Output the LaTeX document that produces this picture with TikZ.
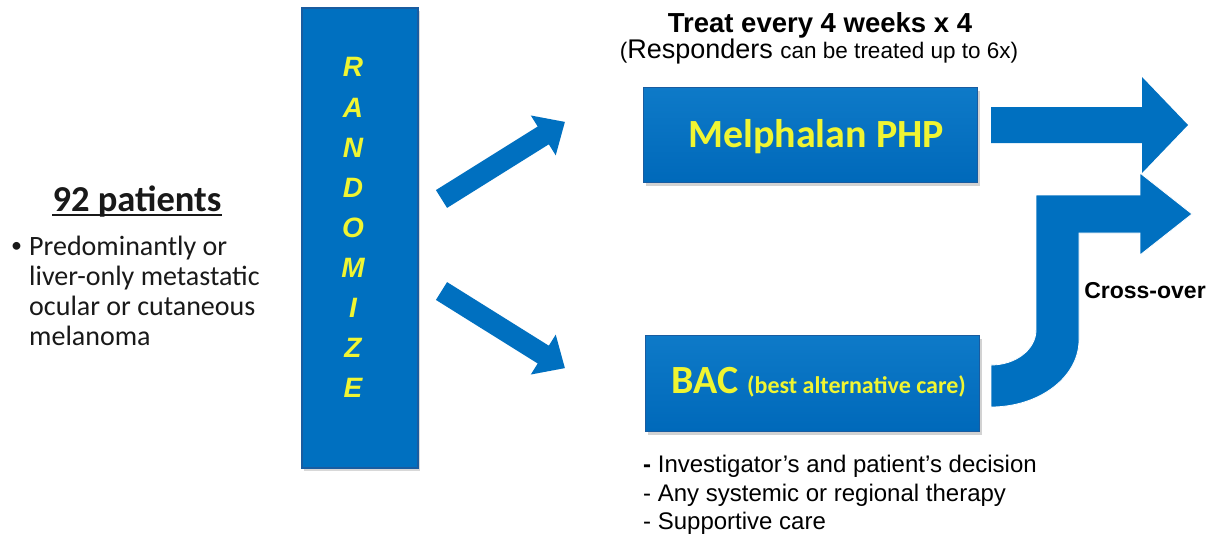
\documentclass[tikz,border=0pt]{standalone}
\usepackage{fontspec}
\setmainfont{Liberation Sans}
\newfontfamily\cali{Carlito}
\usetikzlibrary{shadows,calc}
\definecolor{sblue}{RGB}{0,112,192}
\definecolor{sbluetop}{RGB}{14,122,200}
\definecolor{sbluebot}{RGB}{0,105,186}
\definecolor{sblueedge}{RGB}{25,92,160}
\definecolor{syellow}{RGB}{240,245,50}
\begin{document}
\begin{tikzpicture}[x=1pt,y=-1pt,
  box/.style={draw=sblueedge, line width=1pt, top color=sbluetop, bottom color=sbluebot,
    inner sep=0pt, drop shadow={shadow xshift=3pt, shadow yshift=-4pt, opacity=0.35}},
  randbox/.style={draw=sblueedge, line width=1.8pt, fill=sblue, inner sep=0pt,
    drop shadow={shadow xshift=2pt, shadow yshift=-3pt, opacity=0.3}},
  lbl/.style={inner sep=0pt, anchor=base},
  lblw/.style={inner sep=0pt, anchor=base west},
  randl/.style={lbl, text=syellow, font=\bfseries\itshape\fontsize{28}{30}\selectfont},
  leftt/.style={lblw, text=black!90, font=\cali\fontsize{28}{30}\selectfont},
  bact/.style={lblw, font=\fontsize{24}{28}\selectfont},
  blk/.style={fill=sblue}]
\useasboundingbox[fill=white] (0,0) rectangle (1212,535);

% left text
\node[lbl, text=black!90, font=\cali\bfseries\fontsize{36.5}{42}\selectfont] (np) at (137,211) {92 patients};
\draw[line width=2pt, black!90] ($(np.base west)+(0,4)$) -- ($(np.base east)+(0,4)$);
\node[lblw, text=black!90, font=\cali\fontsize{22}{26}\selectfont] (bul) at (11,252) {•};
\node[leftt] (l1) at (29,255) {Predominantly or};
\node[leftt] (l2) at (29,285) {liver-only metastatic};
\node[leftt] (l3) at (29,315) {ocular or cutaneous};
\node[leftt] (l4) at (29,345) {melanoma};

% randomize box
\node[randbox, minimum width=116pt, minimum height=460pt] (rand) at (360,238) {};
\foreach \L [count=\i from 0] in {R,A,N,D,O,M,I,Z,E}
  \node[randl] (r\i) at (353,77+40.1*\i) {\L};

% diagonal arrows
\begin{scope}[shift={(441.5,199)}, rotate=32]
  \fill[sblue] (0,10.5) -- (120,10.5) -- (120,23.5) -- (145.5,0) -- (120,-23.5) -- (120,-10.5) -- (0,-10.5) -- cycle;
\end{scope}
\begin{scope}[shift={(441.5,291)}, rotate=-32]
  \fill[sblue] (0,10.5) -- (120,10.5) -- (120,23.5) -- (145.5,0) -- (120,-23.5) -- (120,-10.5) -- (0,-10.5) -- cycle;
\end{scope}

% top texts
\node[lbl, font=\bfseries\fontsize{27.5}{32}\selectfont] (treat) at (820,33) {Treat every 4 weeks x 4};
\node[lbl] (resp) at (819,59) {\fontsize{22.5}{26}\selectfont(\fontsize{27}{32}\selectfont Responders \fontsize{22.5}{26}\selectfont can be treated up to 6x)};

% boxes
\node[box, minimum width=334pt, minimum height=95pt] (mel) at (810,134.5) {};
\node[lbl, text=syellow, font=\cali\bfseries\fontsize{40}{48}\selectfont] (melt) at (816,147) {Melphalan PHP};
\node[box, minimum width=334pt, minimum height=96pt] (bac) at (812,383) {};
\node[lbl, text=syellow, font=\cali\bfseries] (bact1) at (818.5,393) {\fontsize{40}{48}\selectfont BAC \fontsize{24}{28}\selectfont(best alternative care)};

% right arrows
\fill[sblue] (991,107) -- (1142,107) -- (1142,77) -- (1188,125) -- (1142,173) -- (1142,143) -- (991,143) -- cycle;
\filldraw[sblue, draw=white, line width=0.8pt] (991,407) .. controls (1039.6,407) and (1079,377) .. (1079,340) -- (1079,233) -- (1140,233) -- (1140,255) -- (1192,214) -- (1140,173) -- (1140,195) -- (1036,195) -- (1036,330) .. controls (1036,349.3) and (1015.9,365) .. (991,365) -- cycle;
\node[lbl, font=\bfseries\fontsize{23}{28}\selectfont] (cross) at (1145,298) {Cross-over};

% BAC bullets
\node[bact] (b1) at (643,472) {\textbf{-} Investigator’s and patient’s decision};
\node[bact] (b2) at (643,501) {- Any systemic or regional therapy};
\node[bact] (b3) at (643,529) {- Supportive care};
\end{tikzpicture}
\end{document}
